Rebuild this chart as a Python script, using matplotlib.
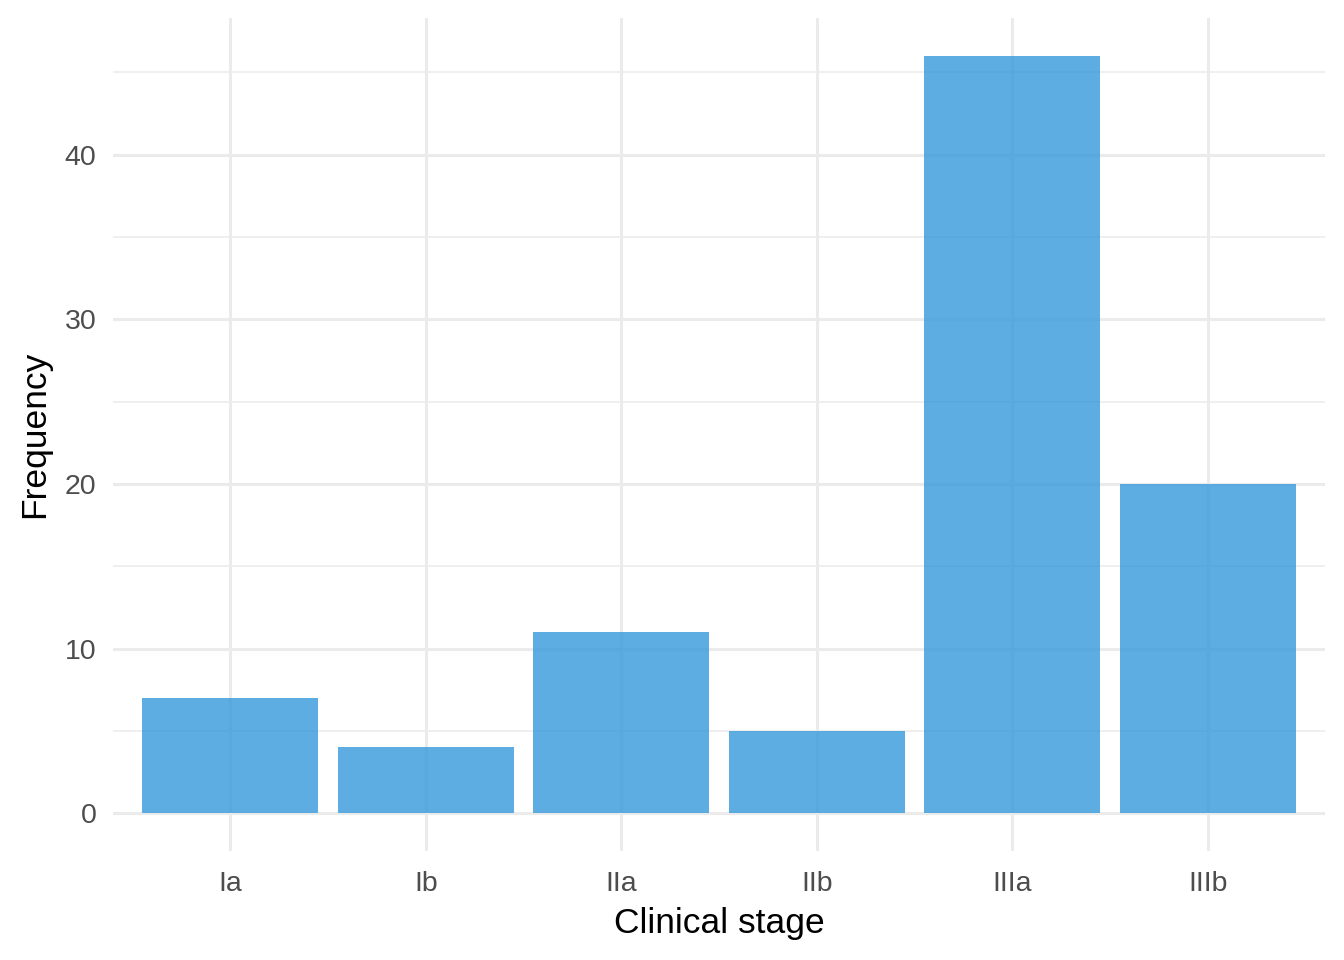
import matplotlib
matplotlib.use("Agg")
import matplotlib.pyplot as plt
import numpy as np

stages = ["Ia", "Ib", "IIa", "IIb", "IIIa", "IIIb"]
counts = [7, 4, 11, 5, 46, 20]

plt.rcParams["font.family"] = ["Liberation Sans", "DejaVu Sans"]

W, H = 1344, 960
fig = plt.figure(figsize=(W / 100, H / 100), dpi=100)
# panel in pixel coords: x 113..1325, y 18..851
ax = fig.add_axes([113 / W, (H - 851) / H, (1325 - 113) / W, (851 - 18) / H])

x = np.arange(1, len(stages) + 1)
ax.bar(x, counts, width=0.9, color="#3498DB", alpha=0.8, zorder=3)

ymax = max(counts)
ax.set_xlim(0.4, len(stages) + 0.6)
ax.set_ylim(-0.05 * ymax, 1.05 * ymax)

ax.set_xticks(x)
ax.set_xticklabels(stages)
ax.set_yticks([0, 10, 20, 30, 40])
ax.set_yticks([5, 15, 25, 35, 45], minor=True)

grid = "#EBEBEB"
ax.grid(True, which="major", color=grid, linewidth=2.2, zorder=0)
ax.grid(True, which="minor", axis="y", color=grid, linewidth=1.1, zorder=0)
ax.set_axisbelow(True)

for s in ax.spines.values():
    s.set_visible(False)
ax.tick_params(which="both", length=0)
ax.tick_params(axis="y", pad=12, labelsize=20.5, labelcolor="#4D4D4D")
ax.tick_params(axis="x", pad=14.5, labelsize=20.5, labelcolor="#4D4D4D")

fig.text(719 / W, 1 - 923 / H, "Clinical stage", ha="center", va="center",
         fontsize=25.5, color="black")
fig.text(35 / W, 1 - 434 / H, "Frequency", ha="center", va="center",
         rotation=90, fontsize=25.5, color="black")

fig.savefig("out.png", dpi=100, facecolor="white")
